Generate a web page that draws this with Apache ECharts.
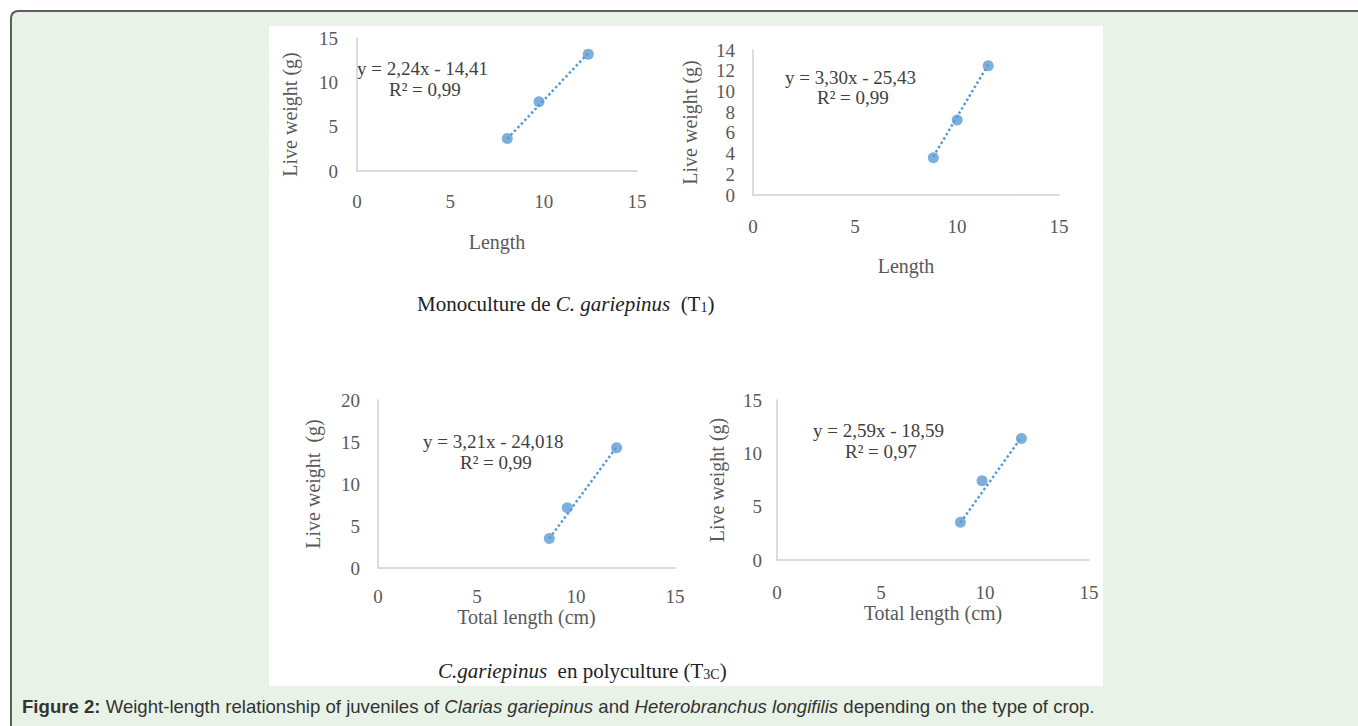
<!DOCTYPE html>
<html><head><meta charset="utf-8">
<script src="https://cdn.jsdelivr.net/npm/echarts@6/dist/echarts.min.js"></script>
<style>
html,body{margin:0;padding:0;width:1358px;height:726px;overflow:hidden;background:#fff;}
#frame{position:absolute;left:10px;top:10px;width:1400px;height:760px;border-top:2px solid #5e5e5e;border-left:2px solid #5e5e5e;border-top-left-radius:8px;background:#e8f2e6;box-sizing:border-box;}
#paper{position:absolute;left:269px;top:26px;width:834px;height:660px;background:#fff;}
#chart{position:absolute;left:0;top:0;width:1358px;height:726px;}
</style></head><body>
<div id="frame"></div><div id="paper"></div><div id="chart"></div>
<script>
// ---- data ----
const t1LeftLength = [8.05, 9.75, 12.39];
const t1LeftWeight = [3.67, 7.81, 13.18];
const t1RightLength = [8.84, 10.01, 11.53];
const t1RightWeight = [3.6, 7.24, 12.48];
const t3LeftLength = [8.65, 9.56, 12.05];
const t3LeftWeight = [3.5, 7.16, 14.31];
const t3RightLength = [8.82, 9.86, 11.75];
const t3RightWeight = [3.53, 7.43, 11.4];

// trendline end points
const trend1Length = [8.05, 12.39];
const trend1Weight = [3.62, 13.3];
const trend2Length = [8.84, 11.53];
const trend2Weight = [3.7, 12.6];
const trend3Length = [8.65, 12.05];
const trend3Weight = [3.5, 14.4];
const trend4Length = [8.82, 11.75];
const trend4Weight = [3.5, 11.5];

const equations = ['y = 2,24x - 14,41', 'y = 3,30x - 25,43', 'y = 3,21x - 24,018', 'y = 2,59x - 18,59'];
const rSquared = ['R\u00b2 = 0,99', 'R\u00b2 = 0,99', 'R\u00b2 = 0,99', 'R\u00b2 = 0,97'];
const xAxisTitles = ['Length', 'Length', 'Total length (cm)', 'Total length (cm)'];
const yAxisTitles = ['Live weight (g)', 'Live weight (g)', 'Live weight  (g)', 'Live weight (g)'];
const xAxisMax = [15, 15, 15, 15];
const xAxisStep = [5, 5, 5, 5];
const yAxisMax = [15, 14, 20, 15];
const yAxisStep = [5, 2, 5, 5];

// ---- layout ----
const grids = [
  {left: 357, top: 38, width: 280, height: 133},
  {left: 753, top: 50, width: 306, height: 145},
  {left: 378, top: 400, width: 297, height: 168},
  {left: 777, top: 400, width: 312, height: 160}
];
const xLabelMargin = [21, 22, 19, 23];
const xNameGap = [61, 61, 30, 38];
const yNameGap = [57, 53, 55, 50];
const yLabelMargin = [19, 18, 18, 15];
const yNamePad = [[0, 20, 0, 0], 0, 0, 0];
const eqPos = [[357, 68, 389, 89], [785, 77, 817, 97], [423, 441, 460, 462], [813, 430, 845, 451]];

const serif = 'Liberation Serif';
const gray = '#595959';
const blue = '#5b9bd5';

const pointSets = [
  [t1LeftLength, t1LeftWeight], [t1RightLength, t1RightWeight],
  [t3LeftLength, t3LeftWeight], [t3RightLength, t3RightWeight]
];
const trendSets = [
  [trend1Length, trend1Weight], [trend2Length, trend2Weight],
  [trend3Length, trend3Weight], [trend4Length, trend4Weight]
];
const zip = (a, b) => a.map((v, i) => [v, b[i]]);

const capRich = {
  n: {fontFamily: serif, fontSize: 21, fill: '#222', lineHeight: 23, verticalAlign: 'bottom'},
  i: {fontFamily: serif, fontSize: 21, fontStyle: 'italic', fill: '#222', lineHeight: 23, verticalAlign: 'bottom'},
  s: {fontFamily: serif, fontSize: 14, fill: '#222', lineHeight: 14, verticalAlign: 'bottom'}
};

const option = {
  animation: false,
  grid: grids.map(g => Object.assign({containLabel: false}, g)),
  xAxis: grids.map((g, i) => ({
    gridIndex: i, type: 'value', min: 0, max: xAxisMax[i], interval: xAxisStep[i],
    name: xAxisTitles[i], nameLocation: 'middle', nameGap: xNameGap[i],
    nameTextStyle: {fontFamily: serif, fontSize: 20, color: gray},
    axisLine: {show: true, onZero: false, lineStyle: {color: '#d0d0d0', width: 1.5}},
    axisTick: {show: false}, splitLine: {show: false},
    axisLabel: {fontFamily: serif, fontSize: 19, color: gray, margin: xLabelMargin[i], lineHeight: 19}
  })),
  yAxis: grids.map((g, i) => ({
    gridIndex: i, type: 'value', min: 0, max: yAxisMax[i], interval: yAxisStep[i],
    name: yAxisTitles[i], nameLocation: 'middle', nameGap: yNameGap[i], nameRotate: 90, nameMoveOverlap: false,
    nameTextStyle: {fontFamily: serif, fontSize: 20, color: gray, padding: yNamePad[i]},
    axisLine: {show: true, onZero: false, lineStyle: {color: '#d0d0d0', width: 1.5}},
    axisTick: {show: false}, splitLine: {show: false},
    axisLabel: {fontFamily: serif, fontSize: 19, color: gray, margin: yLabelMargin[i]}
  })),
  series: [].concat(
    trendSets.map((t, i) => ({
      type: 'line', xAxisIndex: i, yAxisIndex: i, data: zip(t[0], t[1]),
      symbol: 'none', silent: true, z: 1,
      lineStyle: {color: blue, width: 2.5, type: 'dotted'}
    })),
    pointSets.map((p, i) => ({
      type: 'scatter', xAxisIndex: i, yAxisIndex: i, data: zip(p[0], p[1]),
      symbolSize: 11, itemStyle: {color: blue}, z: 3
    }))
  ),
  graphic: [].concat(
    eqPos.map((p, i) => ({type: 'text', x: p[0], y: p[1], style: {text: equations[i], font: '19px "Liberation Serif"', fill: '#404040', textAlign: 'left', textVerticalAlign: 'middle'}})),
    eqPos.map((p, i) => ({type: 'text', x: p[2], y: p[3], style: {text: rSquared[i], font: '19px "Liberation Serif"', fill: '#404040', textAlign: 'left', textVerticalAlign: 'middle'}})),
    [
      {type: 'text', x: 417, y: 303, style: {
        text: '{n|Monoculture de }{i|C. gariepinus}{n|  (T}{s|1}{n|)}',
        textAlign: 'left', textVerticalAlign: 'middle', rich: capRich}},
      {type: 'text', x: 438, y: 670, style: {
        text: '{i|C.gariepinus}{n|  en polyculture (T}{s|3C}{n|)}',
        textAlign: 'left', textVerticalAlign: 'middle', rich: capRich}},
      {type: 'text', x: 22, y: 706, style: {
        text: '{b|Figure 2:}{n| Weight-length relationship of juveniles of }{i|Clarias gariepinus}{n| and }{i|Heterobranchus longifilis}{n| depending on the type of crop.}',
        textAlign: 'left', textVerticalAlign: 'middle',
        rich: {
          b: {fontFamily: 'Liberation Sans', fontSize: 18.6, fontWeight: 'bold', fill: '#333'},
          n: {fontFamily: 'Liberation Sans', fontSize: 18.6, fill: '#333'},
          i: {fontFamily: 'Liberation Sans', fontSize: 18.6, fontStyle: 'italic', fill: '#333'}
        }}}
    ]
  )
};

const chart = echarts.init(document.getElementById('chart'), null, {renderer: 'svg', width: 1358, height: 726});
chart.setOption(option);
</script>
</body></html>
